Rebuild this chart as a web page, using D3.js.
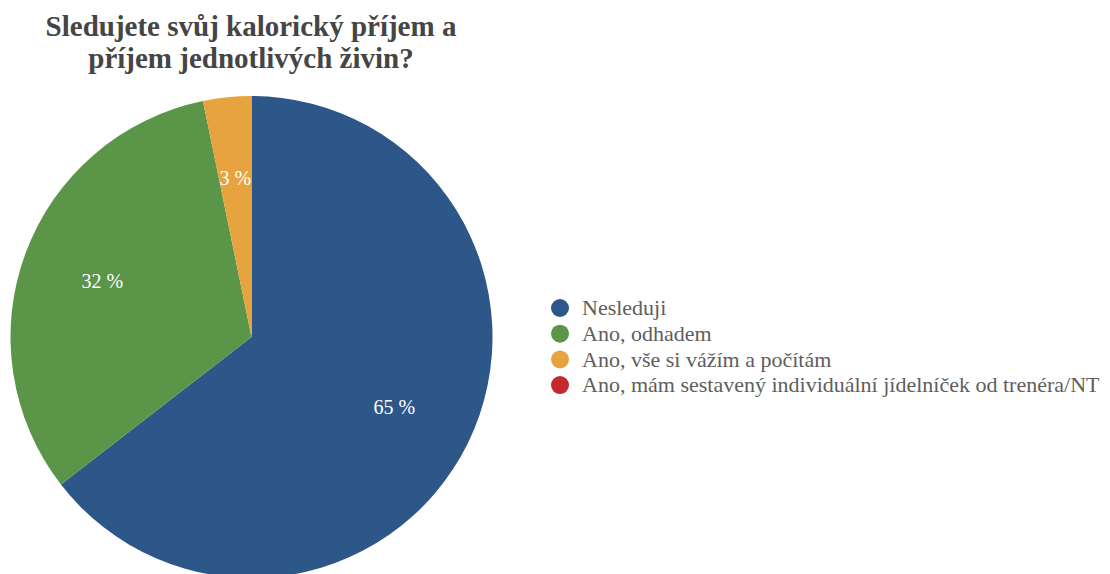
<!DOCTYPE html>
<html>
<head>
<meta charset="utf-8">
<script src="https://cdn.jsdelivr.net/npm/d3@7"></script>
<style>
  html, body { margin: 0; padding: 0; background: #fff; }
  svg { display: block; }
  svg text { font-family: "Liberation Serif", "DejaVu Serif", serif; }
</style>
</head>
<body>
<svg id="chart" width="1110" height="574"></svg>
<script>
// Survey answers: "Do you track calorie and nutrient intake?"
const categories = [
  "Nesleduji",
  "Ano, odhadem",
  "Ano, vše si vážím a počítám",
  "Ano, mám sestavený individuální jídelníček od trenéra/NT"
];
const counts = [20, 10, 1, 0];
const colors = ["#2e5789", "#5a9548", "#e7a33e", "#c22a2e"];
const titleLines = ["Sledujete svůj kalorický příjem a", "příjem jednotlivých živin?"];

const svg = d3.select("#chart");
const cx = 251.5, cy = 337, radius = 241;
const total = d3.sum(counts);

const data = categories.map((c, i) => ({ name: c, value: counts[i], color: colors[i] }));

const pie = d3.pie().value(d => d.value).sort(null);
const arcs = pie(data);
const arc = d3.arc().innerRadius(0).outerRadius(radius);
const labelArc = d3.arc().innerRadius(radius * 0.66).outerRadius(radius * 0.66);

const g = svg.append("g").attr("transform", `translate(${cx},${cy})`);

// Slices (zero-valued categories appear only in the legend)
g.selectAll("path.slice")
  .data(arcs.filter(a => a.data.value > 0))
  .join("path")
  .attr("class", "slice")
  .attr("d", arc)
  .attr("fill", d => d.data.color);

// Percentage labels inside the slices
g.selectAll("text.pct")
  .data(arcs.filter(a => a.data.value > 0))
  .join("text")
  .attr("class", "pct")
  .attr("transform", d => `translate(${labelArc.centroid(d)})`)
  .attr("text-anchor", "middle")
  .attr("dy", "0.33em")
  .attr("font-size", 20)
  .attr("fill", "#ffffff")
  .text(d => Math.round(d.data.value / total * 100) + " %");

// Title
svg.append("g")
  .selectAll("text")
  .data(titleLines)
  .join("text")
  .attr("x", 251)
  .attr("y", (d, i) => 36 + i * 32)
  .attr("text-anchor", "middle")
  .attr("font-weight", "bold")
  .attr("font-size", 29)
  .attr("fill", "#454545")
  .text(d => d);

// Legend
const legend = svg.append("g").attr("transform", "translate(560,308)");
const rows = legend.selectAll("g.row")
  .data(data)
  .join("g")
  .attr("class", "row")
  .attr("transform", (d, i) => `translate(0,${i * 25.7})`);

rows.append("circle")
  .attr("r", 9)
  .attr("fill", d => d.color);

rows.append("text")
  .attr("x", 22)
  .attr("dy", "0.33em")
  .attr("font-size", 22)
  .attr("fill", "#5e5e5e")
  .text(d => d.name);
</script>
</body>
</html>
